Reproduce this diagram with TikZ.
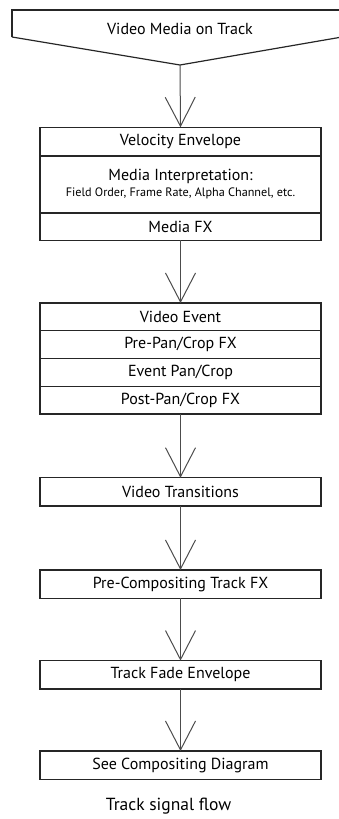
\documentclass[tikz,border=0pt]{standalone}
\usepackage{fontspec}
\setmainfont{PT Sans}
\usetikzlibrary{arrows.meta, positioning}

\begin{document}
\begin{tikzpicture}[
    x=1pt, y=-1pt,
    flow/.style={draw=black!70, line width=1pt,
                 -{Straight Barb[length=29pt, width=30pt]}},
    row/.style={draw=black!85, line width=1.2pt, minimum width=281pt,
                minimum height=27.75pt, inner sep=0pt, outer sep=0pt,
                font=\fontsize{16}{17}\selectfont},
    lbl/.style={font=\fontsize{16}{17}\selectfont}
  ]
  \useasboundingbox (0,0) rectangle (339,819);

  % Source shape
  \coordinate (srcL) at (12,37);
  \coordinate (srcTip) at (180,65);
  \draw[black!85, line width=1.2pt] (srcL) -- (12,10) -- (342,10);
  \draw[black!85, line width=1.2pt] (srcL) -- (srcTip) -- (342,37);
  \node[lbl] (src) at (180,29) {Video Media on Track};

  % Media block
  \node[row, minimum height=28.7pt] (vel) at (180.5,141.65) {Velocity Envelope};
  \node[row, minimum height=57pt, align=center, below=0pt of vel] (interp)
    {Media Interpretation:\\[-1pt]
     {\fontsize{12.2}{13}\selectfont Field Order, Frame Rate, Alpha Channel, etc.}};
  \node[row, minimum height=27.3pt, below=0pt of interp] (mfx) {Media FX};

  % Event block
  \node[row] (vevt) at (180.5,316.9) {Video Event};
  \node[row, below=0pt of vevt] (prepan) {Pre-Pan/Crop FX};
  \node[row, below=0pt of prepan] (evpan) {Event Pan/Crop};
  \node[row, below=0pt of evpan] (postpan) {Post-Pan/Crop FX};

  % Track stages
  \node[row, minimum height=28.3pt] (trans) at (180.5,491.9) {Video Transitions};
  \node[row, minimum height=28.3pt] (precomp) at (180.5,584.2) {Pre-Compositing Track FX};
  \node[row, minimum height=28.3pt] (fade) at (180.5,674.8) {Track Fade Envelope};
  \node[row, minimum height=28.3pt] (comp) at (180.5,765.2) {See Compositing Diagram};

  % Connectors
  \draw[flow] (srcTip) -- (vel.north);
  \draw[flow] (mfx.south) -- (vevt.north);
  \draw[flow] (postpan.south) -- (trans.north);
  \draw[flow] (trans.south) -- (precomp.north);
  \draw[flow] (precomp.south) -- (fade.north);
  \draw[flow] (fade.south) -- (comp.north);

  \node[font=\fontsize{17.5}{19}\selectfont] (caption) at (168.5,806) {Track signal flow};
\end{tikzpicture}
\end{document}
